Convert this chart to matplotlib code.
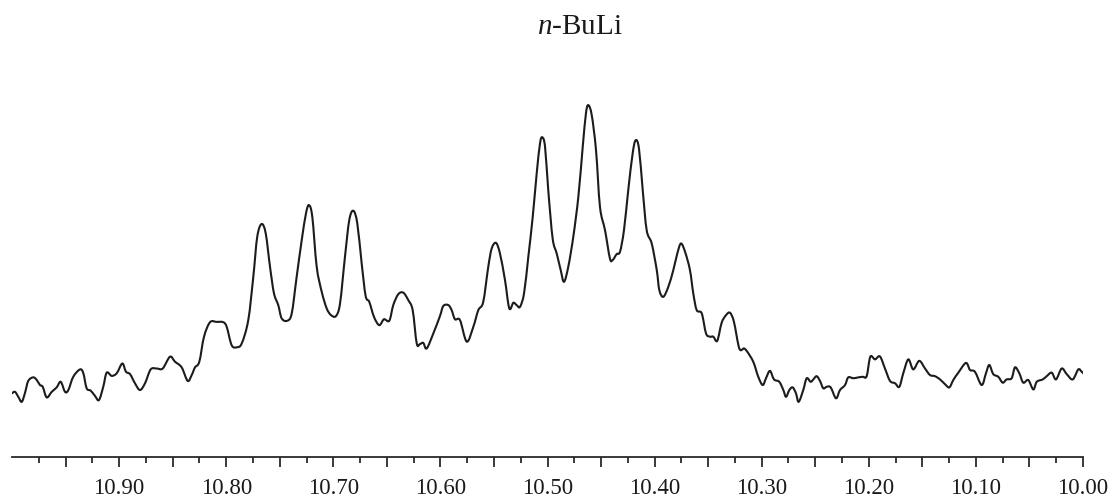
import numpy as np
import matplotlib
matplotlib.use("Agg")
import matplotlib.pyplot as plt
from matplotlib.path import Path
from matplotlib.patches import PathPatch
from matplotlib.ticker import FixedLocator, FuncFormatter

# 1H NMR trace of the n-BuLi sample (chemical shift in ppm, relative intensity)
shift_ppm = [
    11.0000, 10.9972, 10.9941, 10.9909, 10.9879, 10.9848, 10.9801, 10.9769, 10.9739, 10.9713,
    10.9676, 10.9629, 10.9583, 10.9545, 10.9505, 10.9474, 10.9428, 10.9365, 10.9334, 10.9303,
    10.9265, 10.9225, 10.9188, 10.9148, 10.9116, 10.9069, 10.9022, 10.8970, 10.8936, 10.8898,
    10.8852, 10.8805, 10.8758, 10.8705, 10.8649, 10.8593, 10.8525, 10.8478, 10.8416, 10.8360,
    10.8322, 10.8291, 10.8251, 10.8207, 10.8151, 10.8089, 10.8027, 10.7995, 10.7949, 10.7902,
    10.7855, 10.7794, 10.7747, 10.7710, 10.7669, 10.7631, 10.7591, 10.7554, 10.7514, 10.7482,
    10.7430, 10.7388, 10.7342, 10.7295, 10.7255, 10.7227, 10.7196, 10.7155, 10.7108, 10.7062,
    10.7021, 10.6975, 10.6937, 10.6891, 10.6851, 10.6813, 10.6776, 10.6735, 10.6698, 10.6664,
    10.6620, 10.6571, 10.6527, 10.6477, 10.6440, 10.6393, 10.6346, 10.6300, 10.6259, 10.6221,
    10.6191, 10.6160, 10.6128, 10.6066, 10.6004, 10.5973, 10.5926, 10.5895, 10.5864, 10.5817,
    10.5754, 10.5693, 10.5646, 10.5600, 10.5553, 10.5521, 10.5481, 10.5444, 10.5397, 10.5357,
    10.5319, 10.5288, 10.5257, 10.5219, 10.5179, 10.5138, 10.5101, 10.5070, 10.5049, 10.5023,
    10.4993, 10.4952, 10.4914, 10.4877, 10.4846, 10.4806, 10.4759, 10.4712, 10.4671, 10.4641,
    10.4619, 10.4587, 10.4547, 10.4510, 10.4463, 10.4417, 10.4391, 10.4354, 10.4323, 10.4286,
    10.4246, 10.4205, 10.4177, 10.4146, 10.4111, 10.4074, 10.4027, 10.3980, 10.3956, 10.3919,
    10.3872, 10.3825, 10.3788, 10.3754, 10.3716, 10.3670, 10.3639, 10.3607, 10.3560, 10.3520,
    10.3483, 10.3452, 10.3415, 10.3374, 10.3333, 10.3296, 10.3259, 10.3209, 10.3165, 10.3135,
    10.3079, 10.3032, 10.2991, 10.2960, 10.2923, 10.2885, 10.2836, 10.2798, 10.2773, 10.2742,
    10.2711, 10.2680, 10.2655, 10.2612, 10.2580, 10.2543, 10.2518, 10.2487, 10.2456, 10.2425,
    10.2393, 10.2356, 10.2306, 10.2269, 10.2222, 10.2192, 10.2145, 10.2098, 10.2057, 10.2020,
    10.1986, 10.1942, 10.1896, 10.1849, 10.1802, 10.1755, 10.1715, 10.1678, 10.1631, 10.1585,
    10.1529, 10.1475, 10.1429, 10.1382, 10.1335, 10.1289, 10.1248, 10.1211, 10.1164, 10.1093,
    10.1055, 10.1009, 10.0946, 10.0906, 10.0875, 10.0838, 10.0791, 10.0750, 10.0713, 10.0666,
    10.0635, 10.0595, 10.0558, 10.0511, 10.0464, 10.0432, 10.0376, 10.0339, 10.0292, 10.0252,
    10.0199, 10.0152, 10.0096, 10.0044, 10.0012, 9.9981,
]

intensity = [
    2.3, 2.8, 1.1, -0.6, 2.4, 6.5, 7.7, 6.8, 5.1, 4.5,
    0.9, 2.8, 4.3, 6.2, 2.8, 3.4, 7.9, 10.4, 9.1, 4.0,
    3.2, 1.4, 0.0, 4.5, 9.3, 8.2, 9.1, 12.4, 9.6, 8.8,
    5.7, 3.4, 5.7, 10.4, 10.7, 10.7, 14.7, 13.0, 11.1, 6.5,
    8.5, 11.1, 13.0, 21.5, 26.4, 26.5, 26.4, 24.8, 18.6, 17.9,
    19.2, 27.1, 41.8, 55.4, 59.7, 56.5, 45.2, 36.2, 32.2, 27.7,
    26.9, 29.4, 41.8, 54.2, 63.3, 66.1, 62.1, 45.2, 36.7, 31.1,
    28.8, 28.5, 32.8, 48.6, 61.0, 64.2, 59.9, 46.3, 35.3, 33.3,
    28.2, 25.4, 27.4, 26.9, 32.2, 35.9, 36.4, 33.9, 30.5, 19.2,
    19.0, 19.4, 17.5, 22.6, 28.5, 31.9, 32.2, 30.5, 27.4, 27.1,
    19.8, 24.8, 30.5, 33.3, 45.2, 51.4, 53.3, 49.7, 40.7, 31.1,
    33.0, 32.2, 31.6, 36.2, 48.6, 62.1, 76.8, 87.0, 89.1, 85.9,
    71.2, 54.8, 49.7, 44.1, 40.1, 45.2, 55.4, 68.9, 85.9, 97.2,
    100.0, 96.6, 84.7, 65.5, 57.6, 48.0, 47.5, 49.5, 50.3, 57.6,
    71.2, 83.6, 88.1, 85.3, 71.2, 57.6, 53.1, 44.1, 37.3, 35.0,
    38.4, 44.1, 49.7, 53.1, 50.3, 44.1, 36.2, 30.5, 29.4, 22.6,
    21.5, 21.5, 20.1, 26.2, 28.8, 29.6, 26.5, 17.5, 17.5, 16.4,
    13.0, 7.9, 5.1, 7.4, 9.9, 7.0, 6.2, 3.4, 1.1, 3.4,
    4.3, 2.3, -0.6, 3.4, 7.4, 6.2, 7.0, 8.1, 6.5, 4.0,
    4.5, 4.3, 0.6, 3.4, 5.1, 7.7, 7.4, 7.7, 7.9, 8.1,
    14.7, 13.8, 14.8, 10.7, 6.5, 5.7, 4.5, 9.1, 13.8, 10.4,
    13.3, 10.7, 8.5, 8.1, 7.0, 5.4, 4.3, 6.8, 9.3, 12.6,
    10.2, 9.6, 5.1, 9.1, 11.9, 8.8, 7.9, 5.9, 7.0, 7.4,
    11.1, 9.1, 5.9, 6.8, 3.6, 6.2, 7.0, 8.1, 9.3, 7.0,
    10.7, 8.8, 7.0, 10.4, 9.6, 8.5,
]

major_ticks = [10.95, 10.90, 10.85, 10.80, 10.75, 10.70, 10.65, 10.60, 10.55, 10.50,
               10.45, 10.40, 10.35, 10.30, 10.25, 10.20, 10.15, 10.10, 10.05, 10.00]
minor_ticks = [10.975, 10.925, 10.875, 10.825, 10.775, 10.725, 10.675, 10.625, 10.575,
               10.525, 10.475, 10.425, 10.375, 10.325, 10.275, 10.225, 10.175, 10.125,
               10.075, 10.025]

plt.rcParams["font.family"] = ["Liberation Serif", "DejaVu Serif"]
plt.rcParams["mathtext.fontset"] = "custom"
plt.rcParams["mathtext.rm"] = "Liberation Serif"
plt.rcParams["mathtext.it"] = "Liberation Serif:italic"


def smooth_path(xs, ys):
    """Catmull-Rom spline through the samples, expressed as cubic Bezier segments."""
    x = np.asarray(xs, float)
    y = np.asarray(ys, float)
    verts = [(x[0], y[0])]
    codes = [Path.MOVETO]
    n = len(x)
    for i in range(n - 1):
        i0, i3 = max(i - 1, 0), min(i + 2, n - 1)
        c1 = (x[i] + (x[i + 1] - x[i0]) / 6.0, y[i] + (y[i + 1] - y[i0]) / 6.0)
        c2 = (x[i + 1] - (x[i3] - x[i]) / 6.0, y[i + 1] - (y[i3] - y[i]) / 6.0)
        verts += [c1, c2, (x[i + 1], y[i + 1])]
        codes += [Path.CURVE4] * 3
    return Path(verts, codes)


fig = plt.figure(figsize=(11.14, 4.97), dpi=100)
ax = fig.add_axes([12 / 1114, 40 / 497, 1071 / 1114, 397 / 497])

ax.add_patch(PathPatch(smooth_path(shift_ppm, intensity), facecolor="none",
                       edgecolor="#1c1c1c", lw=1.5, joinstyle="round", capstyle="round"))

ax.set_xlim(11.0, 10.0)
ax.set_ylim(-19.3, 115.3)

for side in ("top", "left", "right"):
    ax.spines[side].set_visible(False)
ax.spines["bottom"].set_color("#2a2a2a")
ax.spines["bottom"].set_linewidth(1.3)
ax.yaxis.set_visible(False)

ax.xaxis.set_major_locator(FixedLocator(major_ticks))
ax.xaxis.set_minor_locator(FixedLocator(minor_ticks))


def label_every_tenth(v, pos):
    return f"{v:.2f}" if round(v * 100) % 10 == 0 else ""


ax.xaxis.set_major_formatter(FuncFormatter(label_every_tenth))
ax.tick_params(axis="x", which="major", direction="out", length=7, width=1.3,
               color="#2a2a2a", pad=8, labelsize=16.5, labelcolor="#1a1a1a")
ax.tick_params(axis="x", which="minor", direction="out", length=4, width=1.3,
               color="#2a2a2a")

fig.text(580 / 1114, 1 - 27 / 497, r"$\mathit{n}$-BuLi", fontsize=21,
         color="#1a1a1a", ha="center", va="center")

fig.savefig("out.png", dpi=100, facecolor="white")
